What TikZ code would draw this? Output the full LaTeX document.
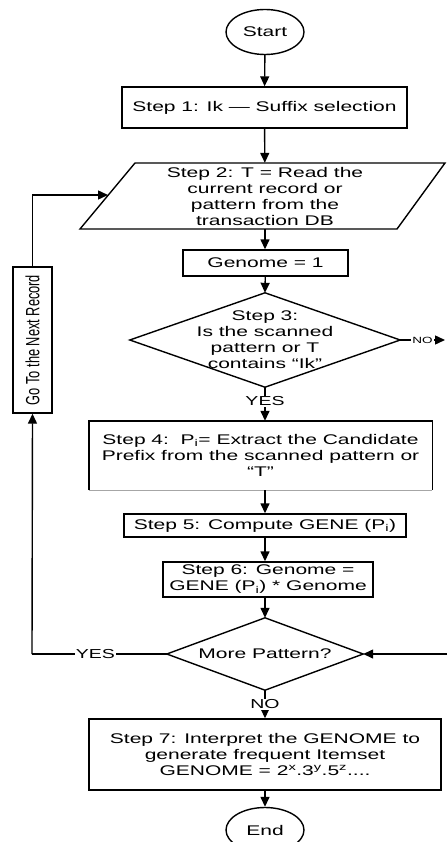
\documentclass[tikz,border=0pt]{standalone}
\usepackage{fontspec}
\usepackage{graphicx}
\usetikzlibrary{arrows.meta,shapes.geometric}
\newfontfamily\wsf[FakeStretch=1.5]{Liberation Sans}
\newfontfamily\plainsf{Liberation Sans}
\tikzset{
  lw/.style={line width=1.4pt},
  boxnode/.style={draw, lw, rectangle, inner sep=0pt, align=center, font=\wsf\fontsize{14}{16}\selectfont},
  ghost/.style={rectangle, inner sep=0pt, align=center, font=\wsf\fontsize{14}{16}\selectfont},
  term/.style={draw, lw, ellipse, inner sep=0pt, minimum width=78pt, minimum height=45pt, font=\wsf\fontsize{14}{16}\selectfont},
  arr/.style={lw, -{Triangle[length=10pt,width=9pt]}},
  conn/.style={lw},
  lab/.style={fill=white, inner sep=1pt, font=\wsf\fontsize{13}{15}\selectfont},
  smalllab/.style={fill=white, inner sep=1pt, font=\wsf\fontsize{9}{10}\selectfont}
}
\begin{document}
\begin{tikzpicture}[x=1pt,y=-1pt]
\useasboundingbox (0,0) rectangle (447,842);
\clip (0,0) rectangle (447,842);

\node[term] (start) at (265,32) {Start};
\node[boxnode, minimum width=285pt, minimum height=41pt] (s1) at (264.5,107.5) {Step 1: Ik — Suffix selection};
\node[ghost, minimum width=313pt, minimum height=66pt] (s2) at (265,196) {Step 2: T = Read the\\current record or\\pattern from the\\transaction DB};
\draw[lw] (135,163) -- (445,163) -- (397,229) -- (80,229) -- cycle;
\coordinate (s2in) at (108,195);
\node[boxnode, minimum width=165pt, minimum height=26pt] (g1) at (265.5,263) {Genome = 1};
\node[ghost, minimum width=270pt, minimum height=94pt] (d3) at (265,340) {Step 3:\\Is the scanned\\pattern or T\\contains “Ik”};
\draw[lw] (d3.north) -- (d3.east) -- (d3.south) -- (d3.west) -- cycle;
\node[ghost, minimum width=343pt, minimum height=69pt] (s4) at (260.5,455.5) {Step 4:\ \ P\textsubscript{i}= Extract the Candidate\\Prefix from the scanned pattern or\\“T”};
\draw[lw] (s4.south west) -- (s4.north west) -- (s4.north east) -- (s4.south east);
\draw[line width=0.6pt, black!35] (s4.south west) -- (s4.south east);
\node[boxnode, minimum width=282pt, minimum height=23pt] (s5) at (265,525.5) {Step 5: Compute GENE (P\textsubscript{i})};
\node[boxnode, minimum width=210pt, minimum height=35pt] (s6) at (268,579.5) {Step 6: Genome =\\GENE (P\textsubscript{i}) * Genome};
\node[ghost, minimum width=196pt, minimum height=72pt] (d4) at (265,654) {More Pattern?};
\draw[lw] (d4.north) -- (d4.east) -- (d4.south) -- (d4.west) -- cycle;
\node[boxnode, minimum width=352pt, minimum height=71pt] (s7) at (265,754.5) {Step 7: Interpret the GENOME to\\generate frequent Itemset\\GENOME = 2\textsuperscript{x}.3\textsuperscript{y}.5\textsuperscript{z}....};
\node[term] (end) at (265,830) {End};
\node[draw, lw, rectangle, inner sep=0pt, minimum width=39pt, minimum height=146pt] (go) at (32.5,340)
  {\rotatebox{90}{\scalebox{1}[1.5]{\plainsf\fontsize{12.8}{15}\selectfont Go To the Next Record}}};

\coordinate (noend) at (445,340);
\coordinate (rin) at (447,654);
\coordinate (yescorner) at (32,654);

\draw[arr] (start) -- (s1);
\draw[arr] (s1) -- (s2);
\draw[arr] (s2) -- (g1.north -| s2.south);
\draw[arr] (g1) -- (d3.north);
\draw[arr] (d3.south) -- node[lab, pos=0.42] {YES} (d3.south |- s4.north);
\draw[arr] (d3.south |- s4.south) -- (s5.north);
\draw[arr] (s5.south) -- (s5.south |- s6.north);
\draw[arr] (s5.south |- s6.south) -- (d4.north);
\draw[arr] (d4.south) -- node[lab, pos=0.5] {NO} (s7.north);
\draw[arr] (s7.south) -- (end.north);
\draw[arr] (d3.east) -- node[smalllab, pos=0.5] {NO} (noend);
\draw[arr] (rin) -- (d4.east);
\draw[conn] (d4.west) -- node[lab, pos=0.53] {YES} (yescorner);
\draw[arr] (yescorner) -- (go.south);
\draw[arr] (go.north) |- (s2in);
\end{tikzpicture}
\end{document}
